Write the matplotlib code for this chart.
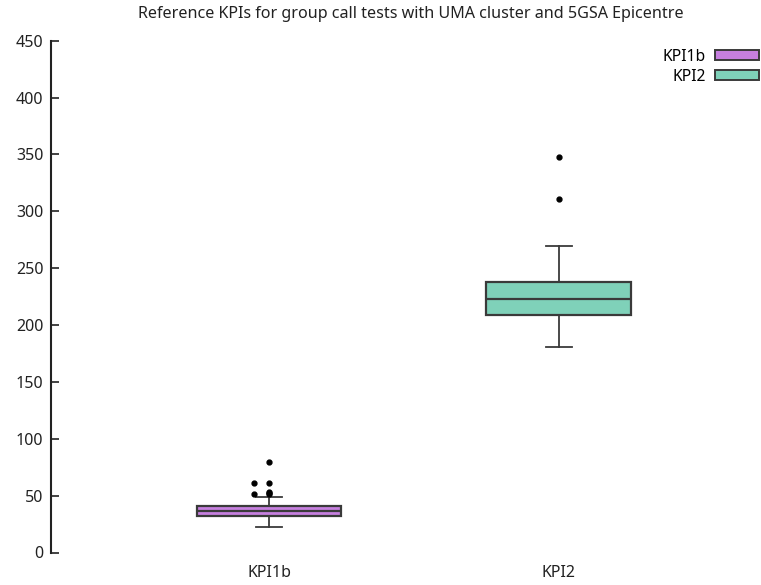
import matplotlib
matplotlib.use("Agg")
import matplotlib.pyplot as plt
from matplotlib.patches import Patch

plt.rcParams['font.family'] = ['Noto Sans', 'DejaVu Sans']

categories = ["KPI1b", "KPI2"]
colors = ["#c67fdf", "#7fd1b9"]
# box statistics
whislo = [22.6, 180.5]
q1 = [32.5, 208.6]
med = [36.5, 223.0]
q3 = [40.5, 237.9]
whishi = [48.9, 269.2]
outliers_center = [[80, 61, 53, 52, 51], [347.4, 310.8]]
outliers_left = [[61, 51.5], []]

yticks = [0, 50, 100, 150, 200, 250, 300, 350, 400, 450]
title = "Reference KPIs for group call tests with UMA cluster and 5GSA Epicentre"

W, H = 761, 585
fig = plt.figure(figsize=(W / 100, H / 100), dpi=100)
ax = fig.add_axes([51 / W, (H - 552.5) / H, (W - 51) / W, (552.5 - 40.7) / H])

positions = list(range(1, len(categories) + 1))
stats = []
for i, c in enumerate(categories):
    stats.append(dict(label=c, whislo=whislo[i], q1=q1[i], med=med[i], q3=q3[i],
                      whishi=whishi[i], fliers=outliers_center[i]))

edge = "#3a3a3a"
bp = ax.bxp(stats, positions=positions, widths=0.5, patch_artist=True,
            capwidths=0.09,
            boxprops=dict(edgecolor=edge, linewidth=1.6),
            medianprops=dict(color=edge, linewidth=1.6),
            whiskerprops=dict(color=edge, linewidth=1.3),
            capprops=dict(color=edge, linewidth=1.3),
            flierprops=dict(marker='o', markersize=3.5, markerfacecolor='black',
                            markeredgecolor='black', linestyle='none'))
for patch, col in zip(bp['boxes'], colors):
    patch.set_facecolor(col)
    patch.set_alpha(None)

for i, pts in enumerate(outliers_left):
    if pts:
        ax.plot([positions[i] - 0.052] * len(pts), pts, 'o', ms=3.5, color='black', ls='none')

ax.set_xlim(0.248, 2.697)
ax.set_ylim(0, 450)
ax.set_yticks(yticks)
ax.set_xticks(positions)
ax.set_xticklabels(categories)
ax.tick_params(axis='x', length=0, pad=9, labelsize=11.5, colors='#222222')
ax.tick_params(axis='y', direction='in', length=6, width=1.2, labelsize=11.5, pad=5.5,
               colors='#222222')
for s in ['top', 'right', 'bottom']:
    ax.spines[s].set_visible(False)
ax.spines['left'].set_linewidth(1.5)
ax.spines['left'].set_color('#222222')

fig.text(411 / W, 1 - 14 / H, title, ha='center', va='center', fontsize=11.6, color='#222222')

handles = [Patch(facecolor=c, edgecolor=edge, linewidth=1.4) for c in colors]
leg = fig.legend(handles, categories, loc='upper right',
                 bbox_to_anchor=(759 / W, 1 - 49 / H), frameon=False,
                 markerfirst=False, fontsize=11.3, handlelength=2.8, handleheight=0.6,
                 labelspacing=0.25, borderpad=0, borderaxespad=0, handletextpad=0.6)
for t in leg.get_texts():
    t.set_ha('right')

fig.savefig("out.png", dpi=100)
